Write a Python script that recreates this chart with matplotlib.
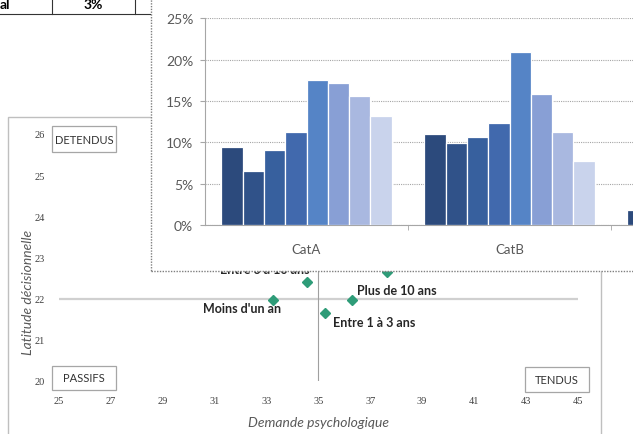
import matplotlib
matplotlib.use('Agg')
import matplotlib.pyplot as plt
import numpy as np
from matplotlib.patches import Rectangle
from matplotlib.lines import Line2D

# --- data -------------------------------------------------------------
# scatter: demande psychologique vs latitude decisionnelle per seniority
groupes = ["Moins d'un an", "Entre 1 à 3 ans", "Entre 3 à 10 ans", "Plus de 10 ans", ""]
demande = [33.26, 35.25, 34.56, 36.31, 37.65]
latitude = [21.96, 21.66, 22.41, 21.96, 22.65]
quadrants = ["DETENDUS", "PASSIFS", "TENDUS"]
x_ticks = list(range(25, 46, 2))
y_ticks = list(range(20, 27))

# bar chart (8 series, three categories, the third is mostly off-page)
categories = ["CatA", "CatB", "CatC"]
series = [
    [9.4, 11.0, 1.8],
    [6.5, 9.9, np.nan],
    [9.1, 10.6, np.nan],
    [11.2, 12.3, np.nan],
    [17.5, 20.9, np.nan],
    [17.2, 15.9, np.nan],
    [15.6, 11.3, np.nan],
    [13.2, 7.7, np.nan],
]
bar_colors = ["#2c4a7c", "#305289", "#37609e", "#4169ad", "#5584c6",
              "#889fd5", "#a9b8e0", "#c9d3ec"]
pct_ticks = [0, 5, 10, 15, 20, 25]

# table fragment at top left
table_cells = ["al", "3%"]

W, H = 633, 435
fig = plt.figure(figsize=(W / 100, H / 100), dpi=100)


def fx(x):
    return x / W


def fy(y):
    return 1 - y / H


# --- table fragment ---------------------------------------------------
fig.add_artist(Line2D([0, fx(150)], [fy(15), fy(15)], color="#333333", lw=0.8))
for xv in (51.7, 135):
    fig.add_artist(Line2D([fx(xv), fx(xv)], [fy(15), 1], color="#333333", lw=0.8))
fig.text(fx(0), fy(5), table_cells[0], ha="left", va="center", fontsize=10,
         fontweight="bold", family="Lato")
fig.text(fx(93), fy(5), table_cells[1], ha="center", va="center", fontsize=10,
         fontweight="bold", family="Lato")

# --- scatter panel ----------------------------------------------------
fig.add_artist(Rectangle((fx(8), fy(445)), fx(593), (445 - 118) / H,
                         transform=fig.transFigure, fc="white", ec="#bfbfbf",
                         lw=1, zorder=0.5))

ax_s = fig.add_axes([fx(58.5), fy(382), fx(578 - 58.5), (382 - 135) / H], zorder=1)
ax_s.set_facecolor("none")
ax_s.set_xticks(x_ticks)
ax_s.set_yticks(y_ticks)
ax_s.set_xlim(25, 45)
ax_s.set_ylim(20, 26)
for s in ax_s.spines.values():
    s.set_visible(False)
ax_s.tick_params(length=0, labelsize=7.5, labelcolor="#404040")
ax_s.tick_params(axis="x", pad=11)
ax_s.tick_params(axis="y", pad=10)
for lab in ax_s.get_xticklabels() + ax_s.get_yticklabels():
    lab.set_family("Liberation Serif")

ax_s.axhline(22, color="#d0d0d0", lw=1.6, zorder=1)
ax_s.axvline(35, color="#a0a0a0", lw=0.8, zorder=1)
ax_s.plot(demande, latitude, "D", color="#2e9c78", ms=5, zorder=3)

offsets = [(-31, -8), (49, -9), (-42, 13), (45, 10), (0, 0)]
for g, x, y, off in zip(groupes, demande, latitude, offsets):
    if g:
        ax_s.annotate(g, (x, y), xytext=off, textcoords="offset pixels",
                      ha="center", va="center", fontsize=9, fontweight="bold",
                      family="Lato", color="#262626")

# quadrant boxes (pixel boxes in the panel)
quad_boxes = [(52, 127, 116, 153), (52, 367, 116, 391), (525, 368, 589, 393)]
for name, (x0, y0, x1, y1) in zip(quadrants, quad_boxes):
    fig.add_artist(Rectangle((fx(x0), fy(y1)), fx(x1 - x0), (y1 - y0) / H,
                             transform=fig.transFigure, fc="white",
                             ec="#a6a6a6", lw=0.9, zorder=1.2))
    fig.text(fx((x0 + x1) / 2), fy((y0 + y1) / 2), name, ha="center",
             va="center", fontsize=8, family="Lato", color="#333333",
             zorder=1.3)

fig.text(fx(318), fy(423), "Demande psychologique", ha="center", va="center",
         fontsize=10, style="italic", family="Lato", color="#595959")
fig.text(fx(28), fy(292), "Latitude décisionnelle", ha="center", va="center",
         rotation=90, fontsize=10, style="italic", family="Lato", color="#595959")

# --- bar panel ----------------------------------------------------------
fig.add_artist(Rectangle((fx(151), fy(272)), fx(500), 280 / H,
                         transform=fig.transFigure, fc="white", ec="#7f7f7f",
                         lw=1, ls=(0, (1, 1)), zorder=1.5))

ax_b = fig.add_axes([fx(205), fy(226), fx(633 - 205), (226 - 19.3) / H], zorder=2)
ax_b.set_facecolor("none")
slot = 0.105
xc = np.arange(len(categories))
for i, (vals, col) in enumerate(zip(series, bar_colors)):
    ax_b.bar(xc - 4 * slot + slot * (i + 0.5), vals, width=slot, color=col,
             edgecolor="white", lw=0.9, zorder=3)

ax_b.set_yticks(pct_ticks)
ax_b.set_yticklabels([f"{p}%" for p in pct_ticks])
ax_b.set_xticks(xc)
ax_b.set_xticklabels(categories)
ax_b.set_xticks(xc[:-1] + 0.5, minor=True)
# set limits after the ticks so the ticks don't widen the view
ax_b.set_xlim(-0.5, -0.5 + (633 - 205) / 203)
ax_b.set_ylim(0, 25)
ax_b.yaxis.grid(True, color="#a6a6a6", lw=0.8, ls=(0, (1, 1)))
ax_b.set_axisbelow(True)
for side in ("top", "right"):
    ax_b.spines[side].set_visible(False)
for side in ("left", "bottom"):
    ax_b.spines[side].set_color("#a6a6a6")
    ax_b.spines[side].set_linestyle((0, (1, 1)))
    ax_b.spines[side].set_linewidth(0.8)
ax_b.tick_params(axis="y", length=3.5, color="#a6a6a6", pad=5, labelsize=10,
                 labelcolor="#595959")
ax_b.tick_params(axis="x", which="major", length=0, pad=13, labelsize=9.5,
                 labelcolor="#595959")
ax_b.tick_params(axis="x", which="minor", length=3.5, color="#a6a6a6")
for lab in ax_b.get_xticklabels() + ax_b.get_yticklabels():
    lab.set_family("Lato")

fig.savefig("out.png", dpi=100)
